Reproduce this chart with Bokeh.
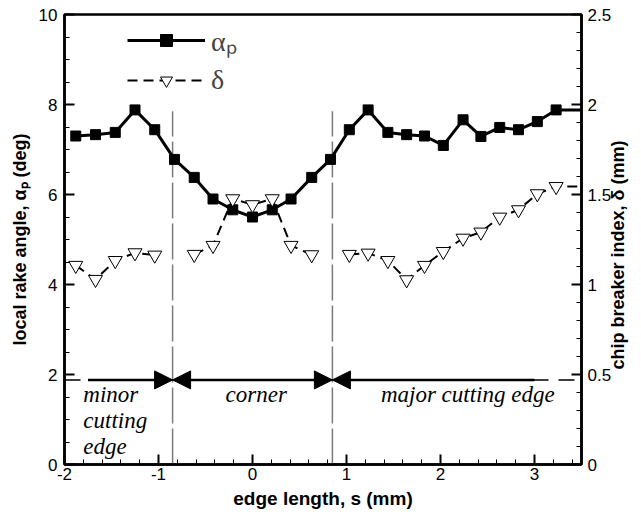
import math
from bokeh.plotting import figure
from bokeh.models import (Range1d, LinearAxis, Legend, LegendItem, Arrow, NormalHead,
                          CustomJSTickFormatter, ColumnDataSource, SingleIntervalTicker)
from bokeh.core.properties import value
from bokeh.embed import file_html
from bokeh.resources import INLINE

nan = float("nan")

# ---- data ----
edge_s = [-1.88, -1.67, -1.46, -1.25, -1.04, -0.83, -0.62, -0.42, -0.21, 0.0,
          0.21, 0.41, 0.63, 0.83, 1.03, 1.23, 1.44, 1.64, 1.83, 2.03, 2.24,
          2.43, 2.63, 2.83, 3.03, 3.23, 3.64]
alpha_p = [7.30, 7.33, 7.38, 7.88, 7.44, 6.78, 6.38, 5.90, 5.66, 5.50,
           5.66, 5.90, 6.38, 6.78, 7.44, 7.88, 7.38, 7.33, 7.30, 7.09, 7.66,
           7.29, 7.49, 7.44, 7.62, 7.88, 7.88]
delta = [1.106, 1.028, 1.133, 1.176, 1.163, nan, 1.167, 1.217, 1.476, 1.443,
         1.476, 1.217, 1.165, nan, 1.167, 1.174, 1.133, 1.026, 1.106, 1.183, 1.257,
         1.291, 1.374, 1.415, 1.504, 1.544, 1.544]

region_bounds = [-0.85, 0.85]          # corner limits (mm)
bound_top = 7.85                       # top of the boundary lines (deg)
arrow_span = [-1.75, -0.85, 0.85, 3.0]  # arrow segment ends (mm)
arrow_level = 1.88                     # arrow height (deg)

label_text = ["minor", "cutting", "edge", "corner", "major cutting edge"]
label_s = [-1.80, -1.80, -1.80, 0.04, 2.29]
label_y = [1.56, 0.98, 0.40, 1.56, 1.56]
label_align = ["left", "left", "left", "center", "center"]

right_title = "chip breaker index, δ (mm)"

# ---- figure ----
p = figure(width=641, height=514, x_range=Range1d(-2, 3.5), y_range=Range1d(0, 10),
           output_backend="svg", toolbar_location=None,
           min_border_left=64, min_border_right=60, min_border_top=14, min_border_bottom=50)
p.extra_y_ranges = {"delta": Range1d(0, 2.5)}
p.xgrid.visible = False
p.ygrid.visible = False
p.outline_line_color = "black"
p.outline_line_width = 2.5
p.background_fill_color = "white"
p.border_fill_color = "white"

fmt = CustomJSTickFormatter(code="return String(Math.round(tick*10)/10)")


def style_axis(ax, label, size="18px"):
    ax.axis_label = label
    ax.axis_label_text_font = "Liberation Sans"
    ax.axis_label_text_font_style = "bold"
    ax.axis_label_text_font_size = size
    ax.axis_label_text_color = "black"
    ax.major_label_text_font = "Liberation Sans"
    ax.major_label_text_font_size = "17px"
    ax.major_label_text_color = "black"
    ax.axis_line_width = 2.5
    ax.axis_line_color = "black"
    ax.major_tick_in = 10
    ax.major_tick_out = 0
    ax.minor_tick_in = 5
    ax.minor_tick_out = 0
    ax.major_tick_line_width = 2
    ax.minor_tick_line_width = 1
    ax.major_tick_line_color = "black"
    ax.minor_tick_line_color = "black"
    ax.formatter = fmt


xa = p.xaxis[0]
style_axis(xa, "edge length, s (mm)", "19px")
xa.ticker = SingleIntervalTicker(interval=1, num_minor_ticks=5)
xa.major_label_standoff = 3
xa.axis_label_standoff = 5

ya = p.yaxis[0]
style_axis(ya, "local rake angle, αₚ (deg)")
ya.ticker = SingleIntervalTicker(interval=2, num_minor_ticks=4)
ya.major_label_standoff = 7
ya.axis_label_standoff = 6

ra = LinearAxis(y_range_name="delta")
ra.ticker = SingleIntervalTicker(interval=0.5, num_minor_ticks=5)
if "axis_label_align" in ra.properties():
    # text is anchored at its start; start at the bottom, reading upward
    style_axis(ra, "\u00a0" * 19 + right_title)
    ra.axis_label_align = "start"
else:
    style_axis(ra, right_title)
ra.axis_label_orientation = math.pi / 2
ra.major_label_standoff = 6
ra.axis_label_standoff = 4
p.add_layout(ra, "right")

# ---- annotations ----
p.segment(x0=region_bounds, y0=[0, 0], x1=region_bounds, y1=[bound_top, bound_top],
          line_color="#7a7a7a", line_width=1.5, line_dash="36 5")

p.segment(x0=[-2], y0=[arrow_level], x1=[3.5], y1=[arrow_level],
          line_color="black", line_width=1.5, line_dash="16 10")

head = dict(size=18, fill_color="black", line_color="black", line_width=1)
p.add_layout(Arrow(x_start=arrow_span[0], y_start=arrow_level, x_end=arrow_span[1], y_end=arrow_level,
                   start=None, end=NormalHead(**head), line_width=2.5, line_color="black"))
p.add_layout(Arrow(x_start=arrow_span[1], y_start=arrow_level, x_end=arrow_span[2], y_end=arrow_level,
                   start=NormalHead(**head), end=NormalHead(**head), line_width=2.5, line_color="black"))
p.add_layout(Arrow(x_start=arrow_span[2], y_start=arrow_level, x_end=arrow_span[3], y_end=arrow_level,
                   start=NormalHead(**head), end=None, line_width=2.5, line_color="black"))

lab_src = ColumnDataSource(dict(x=label_s, y=label_y, t=label_text, a=label_align))
p.text(x="x", y="y", text="t", source=lab_src, text_align="a", text_baseline="middle",
       text_font=value("Liberation Serif"), text_font_style="italic", text_font_size="23px",
       text_color="black")

# ---- data series ----
src = ColumnDataSource(dict(s=edge_s, a=alpha_p, d=delta))
a_line = p.line("s", "a", source=src, line_color="black", line_width=3)
a_mark = p.scatter("s", "a", source=src, marker="square", size=10,
                   fill_color="black", line_color="black")
d_line = p.line("s", "d", source=src, y_range_name="delta", line_color="black",
                line_width=2, line_dash="10 6")
d_mark = p.scatter("s", "d", source=src, y_range_name="delta", marker="inverted_triangle",
                   size=14, fill_color="white", line_color="black", line_width=1)

legend = Legend(items=[LegendItem(label="αₚ", renderers=[a_line, a_mark]),
                       LegendItem(label="δ", renderers=[d_line, d_mark])],
                location=(63, 368), margin=0, padding=0, spacing=5,
                glyph_width=78, glyph_height=30, label_height=30, label_standoff=6,
                label_text_font="Liberation Serif", label_text_font_size="28px",
                label_text_baseline="middle",
                background_fill_alpha=0, border_line_color=None)
p.add_layout(legend)

open("out.html", "w").write(file_html(p, INLINE))
